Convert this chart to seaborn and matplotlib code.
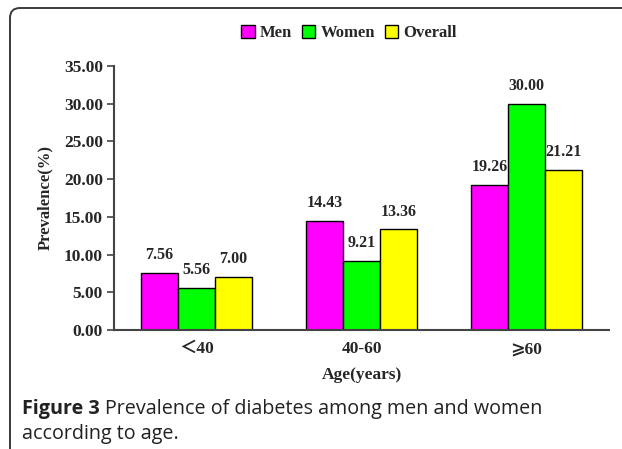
import pandas as pd
import numpy as np
import matplotlib.pyplot as plt
import seaborn as sns
from matplotlib.patches import FancyBboxPatch, Patch

# %%
age_groups = ['＜40', '40-60', '⩾60']
groups = ['Men', 'Women', 'Overall']
men = [7.56, 14.43, 19.26]
women = [5.56, 9.21, 30.00]
overall = [7.00, 13.36, 21.21]
colors = ['#ff00ff', '#00ff00', '#ffff00']

df = pd.DataFrame({
    'Age': age_groups * 3,
    'Group': ['Men'] * 3 + ['Women'] * 3 + ['Overall'] * 3,
    'Prevalence': men + women + overall,
})

# %%
sns.set_style('white')
plt.rcParams['font.family'] = ['Liberation Serif', 'Noto Sans CJK SC', 'DejaVu Sans']
plt.rcParams['font.weight'] = 'bold'

fig = plt.figure(figsize=(6.22, 4.49), dpi=100)
ax = fig.add_axes([114 / 622, 1 - 330 / 449, (609 - 114) / 622, (330 - 66) / 449])

sns.barplot(data=df, x='Age', y='Prevalence', hue='Group', order=age_groups,
            hue_order=groups, palette=colors, width=0.67, saturation=1,
            edgecolor='black', linewidth=1, ax=ax, legend=False)

# value labels above bars
for c in ax.containers:
    ax.bar_label(c, fmt='%.2f', padding=7, fontsize=11.5, fontweight='bold')

ax.set_xlim(-0.5, 2.5)
ax.set_ylim(0, 35)
ax.set_yticks(np.arange(0, 36, 5))
ax.set_yticklabels(['%.2f' % v for v in np.arange(0, 36, 5)], fontsize=12.5, fontweight='bold')
ax.set_xticks(range(3))
ax.set_xticklabels(age_groups, fontsize=12.5, fontweight='bold')
ax.tick_params(axis='y', which='both', left=True, length=5, width=1.2, color='#444444', pad=3)
ax.tick_params(axis='x', length=0, pad=8)

for s in ['top', 'right']:
    ax.spines[s].set_visible(False)
for s in ['left', 'bottom']:
    ax.spines[s].set_color('#444444')
    ax.spines[s].set_linewidth(1.5)

ax.set_ylabel('Prevalence(%)', fontsize=12, fontweight='bold', labelpad=8)
ax.set_xlabel('Age(years)', fontsize=12.5, fontweight='bold', labelpad=7)

# legend on top
handles = [Patch(facecolor=col, edgecolor='black', linewidth=1) for col in colors]
fig.legend(handles, groups, loc='center', bbox_to_anchor=(349 / 622, 1 - 33 / 449),
           ncol=3, frameon=False, handlelength=0.8, handleheight=0.8,
           handletextpad=0.3, columnspacing=0.6, prop={'weight': 'bold', 'size': 12})

# rounded frame around the figure
frame = FancyBboxPatch((10 / 622, -0.2), 1.2, 1.2 - 8 / 449,
                       boxstyle='round,pad=0,rounding_size=0.016',
                       transform=fig.transFigure, facecolor='none',
                       edgecolor='#3a3a3a', linewidth=1.4, clip_on=False,
                       mutation_aspect=622 / 449)
fig.patches.append(frame)

# caption
t1 = fig.text(22 / 622, 1 - 409 / 449, 'Figure 3', fontsize=14.2, fontweight='bold',
              family='Open Sans', color='#222222', va='center')
fig.canvas.draw()
bb = t1.get_window_extent(fig.canvas.get_renderer())
fig.text(bb.x1 / fig.bbox.width + 5 / 622, 1 - 409 / 449,
         'Prevalence of diabetes among men and women', fontsize=14.2,
         fontweight='normal', family='Open Sans', color='#222222', va='center')
fig.text(22 / 622, 1 - 434 / 449, 'according to age.', fontsize=14.2,
         fontweight='normal', family='Open Sans', color='#222222', va='center')

fig.savefig('out.png', dpi=100)
